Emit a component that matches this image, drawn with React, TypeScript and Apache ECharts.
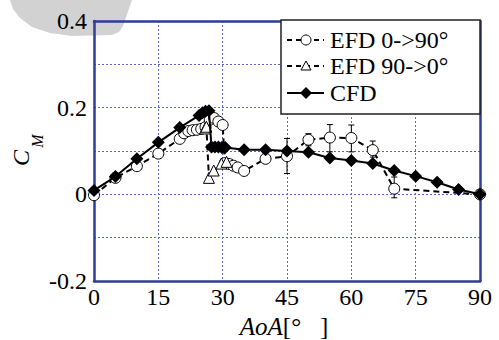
import React, { useEffect, useRef } from "react";
import * as echarts from "echarts";

// AoA [deg], CM
const efdUp: [number, number][] = [
  [0, -0.002], [5, 0.038], [10, 0.065], [15, 0.094], [20, 0.128],
  [21, 0.141], [22, 0.146], [23, 0.148], [24, 0.149], [25, 0.151], [26, 0.155],
  [27, 0.172], [28, 0.176], [29, 0.168], [30, 0.16],
  [30.5, 0.072], [31.5, 0.07], [32.5, 0.066], [33.5, 0.062], [35, 0.054],
  [40, 0.082], [45, 0.088], [50, 0.126], [55, 0.131], [60, 0.13], [65, 0.102],
  [70, 0.013], [90, 0],
];
const efdErr: [number, number, number][] = [
  [45, 0.048, 0.129], [50, 0.112, 0.14], [55, 0.098, 0.161],
  [60, 0.098, 0.16], [65, 0.086, 0.123], [70, -0.008, 0.04],
];
const efdDown: [number, number][] = [
  [25.9, 0.152], [26.2, 0.156], [26.8, 0.038], [27.9, 0.055], [29.7, 0.071], [30.9, 0.075],
];
const cfd: [number, number][] = [
  [0, 0.009], [5, 0.041], [10, 0.082], [15, 0.12], [20, 0.154],
  [24.5, 0.182], [25.3, 0.188], [26, 0.192], [26.8, 0.193],
  [27.4, 0.109], [28.2, 0.109], [29, 0.109], [29.8, 0.108], [30.6, 0.108],
  [35, 0.103], [40, 0.103], [45, 0.1], [50, 0.097], [55, 0.084], [60, 0.078],
  [65, 0.071], [70, 0.055], [75, 0.042], [80, 0.028], [85, 0.011], [90, 0],
];
const legendNames = ["EFD 0->90°", "EFD 90->0°", "CFD"];

const SERIF = "Times New Roman, Liberation Serif, DejaVu Serif, serif";
const FRAME = "#2E3D98";
const GRIDC = "#5566C8";

export default function App() {
  const ref = useRef<HTMLDivElement>(null);
  useEffect(() => {
    const chart = echarts.init(ref.current!, null, { renderer: "svg" });
    const dash = [6, 4];
    const lx = 287, lx2 = 324, lmid = 306, ltx = 330;
    const rows = [40, 66, 93];
    const txt = (extra: any) => ({ fontFamily: SERIF, fill: "#000", ...extra });
    chart.setOption({
      animation: false,
      textStyle: { fontFamily: SERIF },
      grid: { left: 94, right: 19, top: 21, bottom: 59 },
      xAxis: [
        {
          type: "value", min: 0, max: 90, interval: 15,
          axisLine: { show: true, onZero: false, lineStyle: { color: FRAME, width: 2.5 } },
          axisTick: { show: false },
          axisLabel: { color: "#000", fontSize: 24, fontFamily: SERIF, margin: 4 },
          splitLine: { show: true, lineStyle: { color: GRIDC, width: 1, type: [2, 2] } },
        },
        {
          type: "value", min: 0, max: 90, position: "top",
          axisLine: { show: true, onZero: false, lineStyle: { color: FRAME, width: 2.5 } },
          axisTick: { show: false }, axisLabel: { show: false }, splitLine: { show: false },
        },
      ],
      yAxis: [
        {
          type: "value", min: -0.2, max: 0.4, interval: 0.1,
          axisLine: { show: true, onZero: false, lineStyle: { color: FRAME, width: 2.5 } },
          axisTick: { show: false },
          axisLabel: {
            color: "#000", fontSize: 24, fontFamily: SERIF, margin: 7,
            formatter: (v: number) => {
              const k = Math.round(v * 10);
              if (Math.abs(k) % 2 !== 0) return "";
              return k === 0 ? "0" : (k / 10).toFixed(1);
            },
          },
          splitLine: { show: true, lineStyle: { color: GRIDC, width: 1, type: [2, 2] } },
        },
        {
          type: "value", min: -0.2, max: 0.4, position: "right",
          axisLine: { show: true, onZero: false, lineStyle: { color: FRAME, width: 2.5 } },
          axisTick: { show: false }, axisLabel: { show: false }, splitLine: { show: false },
        },
      ],
      series: [
        {
          type: "custom",
          name: "err",
          data: efdErr,
          encode: { x: 0, y: [1, 2] },
          z: 1,
          renderItem: (_p: any, api: any) => {
            const x = api.value(0);
            const a = api.coord([x, api.value(1)]);
            const b = api.coord([x, api.value(2)]);
            const w = 3;
            const st = { stroke: "#000", lineWidth: 1 };
            return {
              type: "group",
              children: [
                { type: "line", shape: { x1: a[0], y1: a[1], x2: b[0], y2: b[1] }, style: st },
                { type: "line", shape: { x1: a[0] - w, y1: a[1], x2: a[0] + w, y2: a[1] }, style: st },
                { type: "line", shape: { x1: b[0] - w, y1: b[1], x2: b[0] + w, y2: b[1] }, style: st },
              ],
            };
          },
        },
        {
          type: "line", name: legendNames[0], data: efdUp, z: 2,
          symbol: "circle", symbolSize: 11, showAllSymbol: true,
          itemStyle: { color: "#fff", borderColor: "#000", borderWidth: 1 },
          lineStyle: { color: "#000", width: 2, type: dash },
        },
        {
          type: "line", name: legendNames[1], data: efdDown, z: 3,
          symbol: "triangle", symbolSize: 11, showAllSymbol: true,
          itemStyle: { color: "#fff", borderColor: "#000", borderWidth: 1 },
          lineStyle: { color: "#000", width: 2, type: dash },
        },
        {
          type: "line", name: legendNames[2], data: cfd, z: 4,
          symbol: "diamond", symbolSize: 13, showAllSymbol: true,
          itemStyle: { color: "#000" },
          lineStyle: { color: "#000", width: 2 },
        },
      ],
      graphic: [
        {
          type: "polygon", z: -1, silent: true,
          shape: {
            points: [[10, 0], [13, 9], [20, 18], [32, 27], [50, 33], [72, 36], [112, 35], [119, 32], [123, 26], [132, 0]],
          },
          style: { fill: "#d2d2d2" },
        },
        {
          type: "text", x: 21, y: 158, rotation: Math.PI / 2,
          style: txt({ text: "C", fontSize: 24, fontStyle: "italic", align: "center", verticalAlign: "middle" }),
        },
        {
          type: "text", x: 37, y: 141, rotation: Math.PI / 2,
          style: txt({ text: "M", fontSize: 16, fontStyle: "italic", align: "center", verticalAlign: "middle" }),
        },
        {
          type: "text", x: 284, y: 326,
          style: {
            text: "{a|AoA}{b|[°   ]}",
            align: "center", verticalAlign: "middle",
            rich: {
              a: { fontFamily: SERIF, fontStyle: "italic", fontSize: 25, fill: "#000" },
              b: { fontFamily: SERIF, fontSize: 25, fill: "#000" },
            },
          },
        },
        {
          type: "rect", z: 10,
          shape: { x: 281, y: 20, width: 199, height: 94 },
          style: { fill: "#fff", stroke: "#222", lineWidth: 1.5 },
        },
        {
          type: "line", z: 11, shape: { x1: lx, y1: rows[0], x2: lx2, y2: rows[0] },
          style: { stroke: "#000", lineWidth: 2, lineDash: [5, 4] },
        },
        {
          type: "circle", z: 12, shape: { cx: lmid, cy: rows[0], r: 5 },
          style: { fill: "#fff", stroke: "#000", lineWidth: 1 },
        },
        {
          type: "line", z: 11, shape: { x1: lx, y1: rows[1], x2: lx2, y2: rows[1] },
          style: { stroke: "#000", lineWidth: 2, lineDash: [5, 4] },
        },
        {
          type: "polygon", z: 12,
          shape: { points: [[lmid, rows[1] - 5], [lmid + 5, rows[1] + 4], [lmid - 5, rows[1] + 4]] },
          style: { fill: "#fff", stroke: "#000", lineWidth: 1 },
        },
        {
          type: "line", z: 11, shape: { x1: lx, y1: rows[2], x2: lx2, y2: rows[2] },
          style: { stroke: "#000", lineWidth: 2 },
        },
        {
          type: "polygon", z: 12,
          shape: { points: [[lmid, rows[2] - 6], [lmid + 6, rows[2]], [lmid, rows[2] + 6], [lmid - 6, rows[2]]] },
          style: { fill: "#000" },
        },
        ...legendNames.map((n, i) => ({
          type: "text", z: 12, x: ltx, y: rows[i],
          style: txt({ text: n, fontSize: 24, align: "left", verticalAlign: "middle" }),
        })),
      ],
    });
    return () => chart.dispose();
  }, []);
  return (
    <div
      ref={ref}
      style={{ position: "absolute", left: 0, top: 0, width: 499, height: 340, background: "#fff" }}
    />
  );
}
